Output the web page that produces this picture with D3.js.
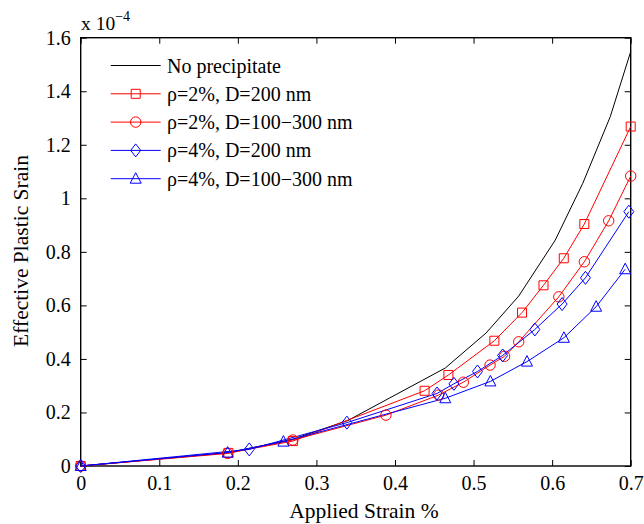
<!DOCTYPE html>
<html>
<head>
<meta charset="utf-8">
<script src="https://cdn.jsdelivr.net/npm/d3@7"></script>
<style>
  html, body { margin: 0; padding: 0; background: #fff; }
  svg { display: block; }
  svg text { font-family: "Liberation Serif", "Times New Roman", Times, "DejaVu Serif", serif; }
</style>
</head>
<body>
<svg id="chart" width="644" height="524"></svg>
<script>
// ---- Data (effective plastic strain in units of 1e-4) ----
const xTicks = [0, 0.1, 0.2, 0.3, 0.4, 0.5, 0.6, 0.7];
const xTickLabels = ["0", "0.1", "0.2", "0.3", "0.4", "0.5", "0.6", "0.7"];
const yTicks = [0, 0.2, 0.4, 0.6, 0.8, 1.0, 1.2, 1.4, 1.6];
const yTickLabels = ["0", "0.2", "0.4", "0.6", "0.8", "1", "1.2", "1.4", "1.6"];

const noPrecipX = [0, 0.188, 0.27, 0.34, 0.464, 0.516, 0.5575, 0.604, 0.639, 0.674, 0.7];
const noPrecipY = [0, 0.05, 0.10, 0.17, 0.366, 0.497, 0.635, 0.844, 1.056, 1.305, 1.548];

const r2d200X = [0, 0.188, 0.27, 0.4377, 0.468, 0.5265, 0.5617, 0.589, 0.6148, 0.641, 0.7];
const r2d200Y = [0, 0.049, 0.093, 0.281, 0.340, 0.468, 0.573, 0.675, 0.776, 0.904, 1.268];

const r2dRangeX = [0, 0.187, 0.27, 0.3885, 0.4556, 0.487, 0.521, 0.5395, 0.5575, 0.6085, 0.641, 0.672, 0.7];
const r2dRangeY = [0, 0.047, 0.097, 0.19, 0.265, 0.313, 0.377, 0.41, 0.464, 0.632, 0.763, 0.916, 1.083];

const r4d200X = [0, 0.2145, 0.3388, 0.4535, 0.475, 0.505, 0.537, 0.578, 0.6127, 0.6424, 0.6976];
const r4d200Y = [0, 0.062, 0.162, 0.271, 0.307, 0.353, 0.413, 0.51, 0.605, 0.703, 0.95];

const r4dRangeX = [0, 0.187, 0.258, 0.464, 0.5214, 0.568, 0.615, 0.656, 0.693];
const r4dRangeY = [0, 0.05, 0.091, 0.253, 0.316, 0.39, 0.479, 0.595, 0.735];

const seriesNames = ["No precipitate", "ρ=2%, D=200 nm", "ρ=2%, D=100−300 nm", "ρ=4%, D=200 nm", "ρ=4%, D=100−300 nm"];
const seriesColors = ["#000000", "#ff0000", "#ff0000", "#0000ff", "#0000ff"];
const seriesMarkers = ["none", "square", "circle", "diamond", "triangle"];

const series = [
  { xs: noPrecipX, ys: noPrecipY },
  { xs: r2d200X, ys: r2d200Y },
  { xs: r2dRangeX, ys: r2dRangeY },
  { xs: r4d200X, ys: r4d200Y },
  { xs: r4dRangeX, ys: r4dRangeY }
].map((s, i) => ({
  name: seriesNames[i], color: seriesColors[i], marker: seriesMarkers[i],
  points: s.xs.map((x, j) => ({ x, y: s.ys[j] }))
}));

// ---- Layout ----
const FONT = '"Liberation Serif", "Times New Roman", Times, "DejaVu Serif", serif';
const svg = d3.select("#chart");
const pLeft = 80.7, pRight = 630.7, pTop = 37.7, pBottom = 466;
const x = d3.scaleLinear().domain([0, 0.7]).range([pLeft, pRight]);
const y = d3.scaleLinear().domain([0, 1.6]).range([pBottom, pTop]);
const tickLen = 6;
const fontSize = 20;

// ---- Axes ----
const xAxisB = d3.axisBottom(x).tickValues(xTicks).tickSizeInner(-tickLen).tickSizeOuter(0)
  .tickPadding(10).tickFormat((d, i) => xTickLabels[i]);
const xAxisT = d3.axisTop(x).tickValues(xTicks).tickSizeInner(-tickLen).tickSizeOuter(0).tickFormat("");
const yAxisL = d3.axisLeft(y).tickValues(yTicks).tickSizeInner(-tickLen).tickSizeOuter(0)
  .tickPadding(10).tickFormat((d, i) => yTickLabels[i]);
const yAxisR = d3.axisRight(y).tickValues(yTicks).tickSizeInner(-tickLen).tickSizeOuter(0).tickFormat("");

function styleAxis(g) {
  g.attr("font-family", FONT).attr("font-size", fontSize);
  g.select(".domain").remove();
  g.selectAll(".tick line").attr("stroke", "#000").attr("stroke-width", 1);
  g.selectAll(".tick text").attr("fill", "#000").attr("font-size", fontSize).attr("font-family", FONT);
}
svg.append("g").attr("transform", `translate(0,${pBottom})`).call(xAxisB).call(styleAxis);
svg.append("g").attr("transform", `translate(0,${pTop})`).call(xAxisT).call(styleAxis);
svg.append("g").attr("transform", `translate(${pLeft},0)`).call(yAxisL).call(styleAxis);
svg.append("g").attr("transform", `translate(${pRight},0)`).call(yAxisR).call(styleAxis);

// Box
svg.append("rect").attr("x", pLeft).attr("y", pTop).attr("width", pRight - pLeft).attr("height", pBottom - pTop)
  .attr("fill", "none").attr("stroke", "#000").attr("stroke-width", 1.4);

// ---- Lines ----
const line = d3.line().x(d => x(d.x)).y(d => y(d.y));
const plot = svg.append("g");
series.forEach(s => {
  plot.append("path").datum(s.points).attr("d", line)
    .attr("fill", "none").attr("stroke", s.color).attr("stroke-width", 1);
});

// ---- Markers ----
function markerPath(type) {
  switch (type) {
    case "square": return "M-4.5,-4.5H4.5V4.5H-4.5Z";
    case "circle": return "M5.2,0A5.2,5.2 0 1,1 -5.2,0A5.2,5.2 0 1,1 5.2,0Z";
    case "diamond": return "M0,-6.5L5,0L0,6.5L-5,0Z";
    case "triangle": return "M0,-6L5.5,4.5H-5.5Z";
    default: return "";
  }
}
series.forEach(s => {
  if (s.marker === "none") return;
  plot.selectAll(null).data(s.points).enter().append("path")
    .attr("transform", d => `translate(${x(d.x)},${y(d.y)})`)
    .attr("d", markerPath(s.marker))
    .attr("fill", "none").attr("stroke", s.color).attr("stroke-width", 1);
});

// ---- Legend ----
const legend = svg.append("g").attr("font-family", FONT);
series.forEach((s, i) => {
  const cy = 65.5 + i * 28.3;
  legend.append("line").attr("x1", 110.7).attr("x2", 160.7).attr("y1", cy).attr("y2", cy)
    .attr("stroke", s.color).attr("stroke-width", 1);
  if (s.marker !== "none") {
    legend.append("path").attr("transform", `translate(135.7,${cy})`).attr("d", markerPath(s.marker))
      .attr("fill", "none").attr("stroke", s.color).attr("stroke-width", 1);
  }
  legend.append("text").attr("x", 167).attr("y", cy + 7).attr("fill", "#000")
    .attr("font-family", FONT).attr("font-size", fontSize).text(s.name);
});

// ---- Labels ----
svg.append("text").attr("x", 364).attr("y", 518).attr("text-anchor", "middle")
  .attr("font-family", FONT).attr("font-size", 21.5).attr("fill", "#000").text("Applied Strain %");
svg.append("text").attr("transform", "translate(28,251) rotate(-90)").attr("text-anchor", "middle")
  .attr("font-family", FONT).attr("font-size", 21.5).attr("fill", "#000").text("Effective Plastic Srain");

const expLabel = svg.append("text").attr("x", 81).attr("y", 30).attr("fill", "#000")
  .attr("font-family", FONT).attr("font-size", 19.5);
expLabel.append("tspan").text("x 10");
expLabel.append("tspan").attr("dy", -9).attr("font-size", 14).text("−4");
</script>
</body>
</html>
